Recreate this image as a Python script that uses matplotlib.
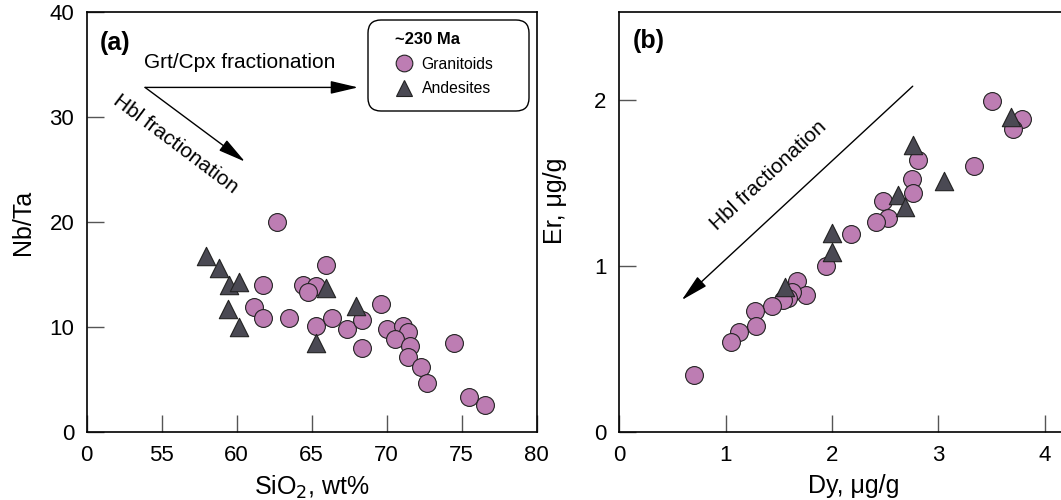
import numpy as np
import matplotlib
matplotlib.use("Agg")
import matplotlib.pyplot as plt
from matplotlib.patches import FancyBboxPatch
from matplotlib.lines import Line2D

plt.rcParams['font.family'] = ['Liberation Sans', 'DejaVu Sans']

# Panel (a): SiO2 vs Nb/Ta
gran_sio2 = [62.67, 65.93, 61.78, 64.42, 65.27, 64.78, 61.17, 61.75, 63.51, 65.29,
             66.33, 67.37, 68.33, 68.33, 69.60, 70.02, 71.11, 71.44, 70.55, 71.55,
             71.40, 72.29, 72.67, 74.49, 75.49, 76.55]
gran_nbta = [20.0, 15.9, 14.0, 14.0, 13.9, 13.36, 11.93, 10.9, 10.85, 10.15,
             10.85, 9.8, 10.7, 8.0, 12.19, 9.87, 10.12, 9.58, 8.86, 8.25,
             7.14, 6.25, 4.66, 8.5, 3.4, 2.6]
and_sio2 = [57.93, 58.82, 59.49, 60.18, 59.42, 60.18, 65.29, 65.93, 67.95]
and_nbta = [16.8, 15.6, 14.0, 14.25, 11.7, 10.06, 8.5, 13.7, 12.0]

# Panel (b): Dy vs Er
gran_dy = [3.50, 3.78, 3.70, 2.81, 3.33, 2.75, 2.76, 2.48, 2.53, 2.41, 2.18, 1.94,
           1.67, 1.76, 1.62, 1.59, 1.54, 1.44, 1.28, 1.29, 1.13, 1.05, 0.70]
gran_er = [1.996, 1.89, 1.83, 1.64, 1.606, 1.524, 1.44, 1.395, 1.289, 1.265, 1.195, 1.004,
           0.911, 0.827, 0.847, 0.807, 0.797, 0.761, 0.733, 0.642, 0.606, 0.542, 0.345]
and_dy = [3.68, 2.76, 3.05, 2.62, 2.69, 2.00, 2.00, 1.56]
and_er = [1.898, 1.73, 1.514, 1.43, 1.36, 1.199, 1.088, 0.877]

xticks_a = [50, 55, 60, 65, 70, 75, 80]
xticklabels_a = ['0', '55', '60', '65', '70', '75', '80']
yticks_a = [0, 10, 20, 30, 40]
xticks_b = [0, 1, 2, 3, 4]
yticks_b = [0, 1, 2]

gran_color = '#BD7DB3'
and_color = '#4A4953'
edge_color = '#222222'

W, H = 1061, 500
fig = plt.figure(figsize=(W / 100, H / 100), dpi=100)

def px_axes(x0, y0, x1, y1):
    return fig.add_axes([x0 / W, 1 - y1 / H, (x1 - x0) / W, (y1 - y0) / H])

ax1 = px_axes(86.7, 11.7, 536.7, 432.3)
ax2 = px_axes(619, 11.7, 619 + 4.4 * 106.5, 432.3)

def style(ax):
    for s in ax.spines.values():
        s.set_linewidth(1.2)
        s.set_color('black')
    ax.tick_params(direction='in', length=12, width=1.0, color='#555555',
                   labelsize=16, pad=9, top=False, right=False)

# --- panel (a)
ax1.scatter(gran_sio2, gran_nbta, s=165, marker='o', facecolor=gran_color,
            edgecolor=edge_color, linewidth=0.8, zorder=3)
ax1.scatter(and_sio2, and_nbta, s=175, marker='^', facecolor=and_color,
            edgecolor=edge_color, linewidth=0.8, zorder=4)
ax1.set_xlim(50, 80)
ax1.set_ylim(0, 40)
ax1.set_xticks(xticks_a)
ax1.set_xticklabels(xticklabels_a)
ax1.set_yticks(yticks_a)
style(ax1)
ax1.set_xlabel('SiO$_2$, wt%', fontsize=18, labelpad=6)
ax1.set_ylabel('Nb/Ta', fontsize=18, labelpad=10)
ax1.text(0.03, 0.925, '(a)', transform=ax1.transAxes, fontsize=18,
         fontweight='bold', va='center', ha='left')

arrow_kw = dict(arrowstyle='-|>,head_length=0.85,head_width=0.2',
                color='black', lw=1.0, mutation_scale=20, shrinkA=0, shrinkB=0)
ax1.annotate('', xy=(68.09, 32.8), xytext=(53.89, 32.8), arrowprops=arrow_kw)
ax1.annotate('', xy=(60.55, 25.74), xytext=(53.89, 32.8), arrowprops=arrow_kw)
ax1.text(60.2, 35.2, 'Grt/Cpx fractionation', fontsize=15, ha='center', va='center')
ax1.text(55.9, 27.4, 'Hbl fractionation', fontsize=15, ha='center', va='center',
         rotation=-37, rotation_mode='anchor')

# legend box
box = FancyBboxPatch((3.68, 3.89), 1.61, 0.91,
                     boxstyle='round,pad=0,rounding_size=0.13',
                     transform=fig.dpi_scale_trans, facecolor='white',
                     edgecolor='black', linewidth=1.0, zorder=5)
fig.patches.append(box)
handles = [Line2D([], [], marker='o', linestyle='none', markersize=12,
                  markerfacecolor=gran_color, markeredgecolor=edge_color, markeredgewidth=0.8),
           Line2D([], [], marker='^', linestyle='none', markersize=12,
                  markerfacecolor=and_color, markeredgecolor=edge_color, markeredgewidth=0.8)]
leg = fig.legend(handles, ['Granitoids', 'Andesites'], loc='upper left',
                 bbox_to_anchor=(387 / W, 1 - 24 / H), frameon=False, fontsize=11.3,
                 title='~230 Ma', title_fontproperties={'weight': 'bold', 'size': 12},
                 alignment='left', borderpad=0, handletextpad=0.5,
                 labelspacing=0.62, handlelength=1.2)
leg.set_zorder(6)

# --- panel (b)
ax2.scatter(gran_dy, gran_er, s=165, marker='o', facecolor=gran_color,
            edgecolor=edge_color, linewidth=0.8, zorder=3)
ax2.scatter(and_dy, and_er, s=175, marker='^', facecolor=and_color,
            edgecolor=edge_color, linewidth=0.8, zorder=4)
ax2.set_xlim(0, 4.4)
ax2.set_ylim(0, 2.535)
ax2.set_xticks(xticks_b)
ax2.set_yticks(yticks_b)
style(ax2)
ax2.set_xlabel('Dy, μg/g', fontsize=18, labelpad=6)
ax2.set_ylabel('Er, μg/g', fontsize=18, labelpad=14)
ax2.yaxis.set_label_coords(-0.11, 0.55)
ax2.text(0.03, 0.93, '(b)', transform=ax2.transAxes, fontsize=18,
         fontweight='bold', va='center', ha='left')
ax2.annotate('', xy=(0.589, 0.797), xytext=(2.758, 2.086), arrowprops=arrow_kw)
ax2.text(1.40, 1.55, 'Hbl fractionation', fontsize=15, ha='center', va='center',
         rotation=43, rotation_mode='anchor')

fig.savefig('out.png', dpi=100)
